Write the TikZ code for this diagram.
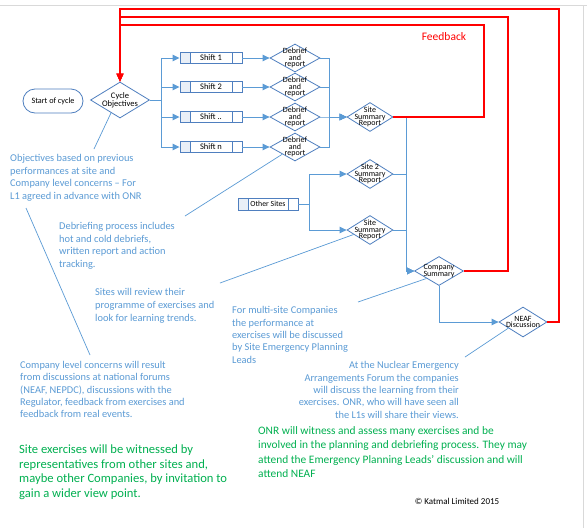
\documentclass[tikz,border=0pt]{standalone}
\usepackage{fontspec}
\setmainfont{Carlito}
\usetikzlibrary{shapes.geometric,arrows.meta,calc}
\definecolor{nodeblue}{HTML}{4F7FBF}
\definecolor{lineblue}{HTML}{5B9BD5}
\definecolor{txtblue}{HTML}{5B9BD5}
\definecolor{grn}{HTML}{00B050}
\definecolor{fbred}{HTML}{FF0000}
\definecolor{cellfill}{HTML}{E9EFF7}
\begin{document}
\begin{tikzpicture}[x=1pt,y=-1pt,
  dia/.style={diamond,draw=nodeblue,fill=white,line width=0.8pt,inner sep=0pt},
  dtext/.style={font=\fontsize{8}{6.5}\selectfont,align=center,inner sep=0pt},
  procbox/.style={rectangle,draw=nodeblue,line width=0.9pt,minimum width=62pt,minimum height=11pt,inner sep=0pt,
    font=\fontsize{8.5}{9}\selectfont,
    path picture={
      \fill[cellfill] (path picture bounding box.north west) rectangle ([xshift=10pt]path picture bounding box.south west);
      \draw[nodeblue,line width=0.8pt] ([xshift=10pt]path picture bounding box.north west) -- ([xshift=10pt]path picture bounding box.south west);
      \draw[nodeblue,line width=0.8pt] ([xshift=-10pt]path picture bounding box.north east) -- ([xshift=-10pt]path picture bounding box.south east);
    }},
  conn/.style={draw=lineblue,line width=1pt},
  arr/.style={conn,-{Triangle[length=7pt,width=6.5pt]}},
  fb/.style={draw=fbred,line width=1.1pt,-{Triangle[length=8pt,width=7pt]}},
  note/.style={draw=lineblue,line width=0.7pt},
  bluetxt/.style={text=txtblue,font=\fontsize{10.4}{12.6}\selectfont,align=left,inner sep=0pt,anchor=north west},
  greentxt/.style={text=grn,align=left,inner sep=0pt,anchor=north west}
]
\fill[white] (0,0) rectangle (587,528);
\useasboundingbox (0,0) rectangle (587,528);
\draw[black!15] (0,5.5) -- (587,5.5);
\draw[black!15] (583,5.5) -- (583,528);

% nodes
\node[rectangle,rounded corners=12pt,draw=nodeblue,line width=0.8pt,minimum width=60pt,minimum height=24pt,font=\fontsize{8.2}{9}\selectfont] (start) at (53,101) {Start of cycle};
\node[dia,minimum width=59pt,minimum height=36pt,label={[dtext,font=\fontsize{8.5}{7}\selectfont]center:Cycle\\Objectives}] (cyc) at (120,100) {};

\node[procbox] (s1) at (211,58) {Shift 1};
\node[procbox] (s2) at (211,87) {Shift 2};
\node[procbox] (s3) at (211,117) {Shift ..};
\node[procbox] (s4) at (211,147) {Shift n};

\foreach \i/\yy in {1/58,2/87,3/117,4/147}{
  \node[dia,minimum width=50pt,minimum height=28pt,label={[dtext]center:Debrief\\and\\report}] (d\i) at (295,\yy) {};
}

\node[dia,minimum width=46pt,minimum height=29pt,label={[dtext]center:Site\\Summary\\Report}] (ssr1) at (370,117) {};
\node[dia,minimum width=46pt,minimum height=29pt,label={[dtext]center:Site 2\\Summary\\Report}] (ss2) at (370,174) {};
\node[dia,minimum width=46pt,minimum height=29pt,label={[dtext]center:Site\\Summary\\Report}] (ssr3) at (370,230) {};
\node[procbox,minimum width=60pt,minimum height=12pt,font=\fontsize{7.8}{9}\selectfont] (other) at (268,204) {Other Sites};
\node[dia,minimum width=49pt,minimum height=29pt,label={[dtext]center:Company\\Summary}] (comp) at (439,271) {};
\node[dia,minimum width=48pt,minimum height=30pt,label={[dtext]center:NEAF\\Discussion}] (neaf) at (523,322) {};

% connectors
\foreach \i in {1,...,4}{
  \draw[arr] (cyc.east) -- ++(12,0) |- (s\i.west);
  \draw[arr] (s\i.east) -- (d\i.west);
  \draw[arr] (d\i.east) -- ++(9,0) |- (ssr1.west);
}
\draw[arr] (ssr1.east) -- ++(13,0) |- (comp.west);
\draw[arr] (ss2.east) -- ++(13,0) |- (comp.west);
\draw[arr] (ssr3.east) -- ++(13,0) |- (comp.west);
\draw[arr] (other.east) -- ++(11,0) |- (ss2.west);
\draw[arr] (other.east) -- ++(11,0) |- (ssr3.west);
\draw[arr] (comp.south) |- (neaf.west);

% feedback
\coordinate (f1) at (484,25);
\coordinate (f2) at (508,17);
\coordinate (f3) at (559,9);
\draw[fb] (ssr1.east) -| (f1) -| (cyc.north);
\draw[fb] (comp.east) -| (f2) -| (cyc.north);
\draw[fb] (neaf.east) -| (f3) -| (cyc.north);
\node[text=fbred,font=\fontsize{11.5}{12}\selectfont,inner sep=0pt] (fbl) at (444,37) {Feedback};

% annotation texts
\node[bluetxt] (t1) at (10,154) {Objectives based on previous\\performances at site and\\Company level concerns -- For\\L1 agreed in advance with ONR};
\node[bluetxt] (t2) at (59,222) {Debriefing process includes\\hot and cold debriefs,\\written report and action\\tracking.};
\node[bluetxt,font=\fontsize{10.4}{13}\selectfont] (t3) at (95,288) {Sites will review their\\programme of exercises and\\look for learning trends.};
\node[bluetxt,font=\fontsize{10.4}{12.3}\selectfont] (t4) at (20,361) {Company level concerns will result\\from discussions at national forums\\(NEAF, NEPDC), discussions with the\\Regulator, feedback from exercises and\\feedback from real events.};
\node[bluetxt,font=\fontsize{10.4}{12.3}\selectfont] (t5) at (232,306.5) {For multi-site Companies\\the performance at\\exercises will be discussed\\by Site Emergency Planning\\Leads};
\node[bluetxt,anchor=north east,align=right,font=\fontsize{10.4}{12.3}\selectfont] (t6) at (459,361.5) {At the Nuclear Emergency\\Arrangements Forum the companies\\will discuss the learning from their\\exercises. ONR, who will have seen all\\the L1s will share their views.};
\node[greentxt,font=\fontsize{12.6}{14.7}\selectfont] (t7) at (19,444.5) {Site exercises will be witnessed by\\representatives from other sites and,\\maybe other Companies, by invitation to\\gain a wider view point.};
\node[greentxt,font=\fontsize{11.4}{14.3}\selectfont] (t8) at (258,426.5) {ONR will witness and assess many exercises and be\\involved in the planning and debriefing process. They may\\attend the Emergency Planning Leads’ discussion and will\\attend NEAF};
\node[font=\fontsize{9}{10}\selectfont,inner sep=0pt] (copy) at (457,501) {© Katmal Limited 2015};

% annotation leaders
\coordinate (n1) at (94,149);
\coordinate (n2a) at (26,208);
\coordinate (n2b) at (90,355);
\coordinate (n3) at (185,216);
\coordinate (n4) at (220,283);
\coordinate (n5) at (358,302);
\coordinate (n6) at (465,357);
\draw[note] ($(cyc.south)!0.3!(cyc.west)$) -- (n1);
\draw[note] (n2a) -- (n2b);
\draw[note] ($(d4.south)!0.5!(d4.west)$) -- (n3);
\draw[note] ($(ssr3.south)!0.7!(ssr3.west)$) -- (n4);
\draw[note] ($(comp.south)!0.5!(comp.west)$) -- (n5);
\draw[note] ($(neaf.south)!0.6!(neaf.west)$) -- (n6);
\end{tikzpicture}
\end{document}
